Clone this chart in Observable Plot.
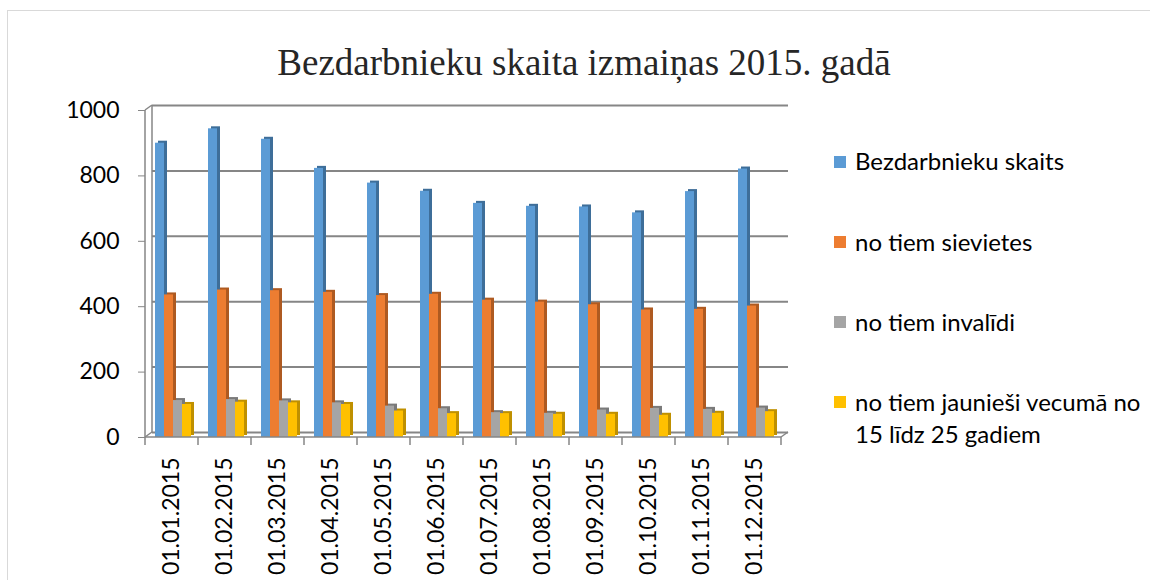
<!DOCTYPE html>
<html>
<head>
<meta charset="utf-8">
<script src="https://cdn.jsdelivr.net/npm/d3@7"></script>
<script src="https://cdn.jsdelivr.net/npm/@observablehq/plot@0.6"></script>
<style>
  html, body { margin: 0; padding: 0; background: #fff; overflow: hidden; }
  #wrap { position: relative; width: 1150px; height: 580px; overflow: hidden; }
  #frame { position: absolute; left: 7px; top: 10px; width: 1200px; height: 600px;
           border-left: 1px solid #d9d9d9; border-top: 1px solid #d9d9d9; }
  #title { position: absolute; left: 0; top: 44px; width: 1168px; text-align: center;
           font-family: "Liberation Serif", serif; font-size: 37px; line-height: 37px; color: #262626; white-space: nowrap; }
  #chart { position: absolute; left: 0; top: 0; }
  .leg { position: absolute; left: 855px; font-family: Lato, sans-serif; font-size: 24px;
         line-height: 32px; color: #000; white-space: nowrap; }
  .sw { position: absolute; left: 834px; width: 12px; height: 12px; }
</style>
</head>
<body>
<div id="wrap">
  <div id="frame"></div>
  <div id="title"></div>
  <div id="chart"></div>
  <div id="legend"></div>
</div>
<script>
const titleText = "Bezdarbnieku skaita izmaiņas 2015. gadā";
const months = ["01.01.2015","01.02.2015","01.03.2015","01.04.2015","01.05.2015","01.06.2015",
                "01.07.2015","01.08.2015","01.09.2015","01.10.2015","01.11.2015","01.12.2015"];
const seriesNames = ["Bezdarbnieku skaits","no tiem sievietes","no tiem invalīdi","no tiem jaunieši vecumā no 15 līdz 25 gadiem"];
const legendLines = [["Bezdarbnieku skaits"],["no tiem sievietes"],["no tiem invalīdi"],["no tiem jaunieši vecumā no","15 līdz 25 gadiem"]];
const bezdarbnieki = [900, 944, 912, 823, 778, 753, 716, 707, 705, 687, 752, 821];
const sievietes    = [436, 451, 449, 444, 434, 438, 420, 414, 406, 390, 392, 402];
const invalidi     = [113, 116, 112, 106,  96,  88,  76,  74,  84,  89,  86,  90];
const jauniesi     = [101, 108, 106, 101,  81,  73,  73,  71,  71,  68,  74,  79];
const yTicks = [0, 200, 400, 600, 800, 1000];
const colors = ["#5B9BD5", "#ED7D31", "#A5A5A5", "#FFC000"];
const darkColors = ["#3E6E99", "#AE5A21", "#7A7A7A", "#BF9000"];

const seriesValues = [bezdarbnieki, sievietes, invalidi, jauniesi];
const data = [];
seriesNames.forEach((s, i) => months.forEach((m, j) => data.push({month: m, series: s, value: seriesValues[i][j]})));

document.getElementById("title").textContent = titleText;

const barMarks = [];
seriesNames.forEach((s, i) => {
  const sub = data.filter(d => d.series === s);
  barMarks.push(Plot.barY(sub, {fx: "month", x: "series", y: "value", fill: darkColors[i], dx: 3, dy: -2}));
});
seriesNames.forEach((s, i) => {
  const sub = data.filter(d => d.series === s);
  barMarks.push(Plot.barY(sub, {fx: "month", x: "series", y: "value", fill: colors[i]}));
});

const plot = Plot.plot({
  width: 1150, height: 580,
  marginTop: 110, marginBottom: 143, marginLeft: 143, marginRight: 367,
  style: {fontFamily: "Lato, sans-serif", fontSize: "23px", color: "#000", background: "transparent", overflow: "visible"},
  fx: {domain: months, padding: 0, label: null},
  x: {domain: seriesNames, paddingInner: 0, paddingOuter: 0.66, align: 0.6, axis: null},
  y: {domain: [0, 1000]},
  marks: [
    Plot.ruleY(yTicks, {dx: 7, dy: -5, stroke: "#868686", strokeWidth: 2}),
    Plot.axisY(yTicks, {tickSize: 7, tickPadding: 19, label: null, stroke: "#868686", tickFormat: d3.format("d")}),
    Plot.axisFx({anchor: "bottom", tickRotate: -90, tickSize: 0, tickPadding: 20, label: null}),
    ...barMarks
  ]
});
document.getElementById("chart").appendChild(plot);

// 3D box edges and band-boundary ticks, placed through the plot's own scales
const ys = plot.scale("y"), fxs = plot.scale("fx");
const y0 = ys.apply(0), yTop = ys.apply(1000);
const xl = fxs.apply(months[0]);
const xr = fxs.apply(months[months.length - 1]) + fxs.bandwidth;
const svg = d3.select(plot);
const g = svg.append("g").attr("stroke", "#868686").attr("stroke-width", 1.5).attr("fill", "none");
const lines = [
  [xl, yTop, xl, y0],
  [xl + 7, yTop - 5, xl + 7, y0 - 5],
  [xl, yTop, xl + 7, yTop - 5],
  [xl, y0, xl + 7, y0 - 5],
  [xl, y0, xr, y0],
  [xr, y0, xr + 7, y0 - 5]
];
months.forEach(m => lines.push([fxs.apply(m), y0, fxs.apply(m), y0 + 8]));
lines.push([xr, y0, xr, y0 + 8]);
g.selectAll("line").data(lines).join("line")
  .attr("x1", d => d[0]).attr("y1", d => d[1]).attr("x2", d => d[2]).attr("y2", d => d[3]);

// legend
const legend = document.getElementById("legend");
const baseTops = [145, 225.5, 305.5, 385.5];
legendLines.forEach((lns, i) => {
  const sw = document.createElement("div");
  sw.className = "sw";
  sw.style.background = colors[i];
  sw.style.top = (baseTops[i] + 24.5 - 7.6 - 6) + "px";
  legend.appendChild(sw);
  const t = document.createElement("div");
  t.className = "leg";
  t.style.top = baseTops[i] + "px";
  t.innerHTML = lns.join("<br>");
  legend.appendChild(t);
});
</script>
</body>
</html>
